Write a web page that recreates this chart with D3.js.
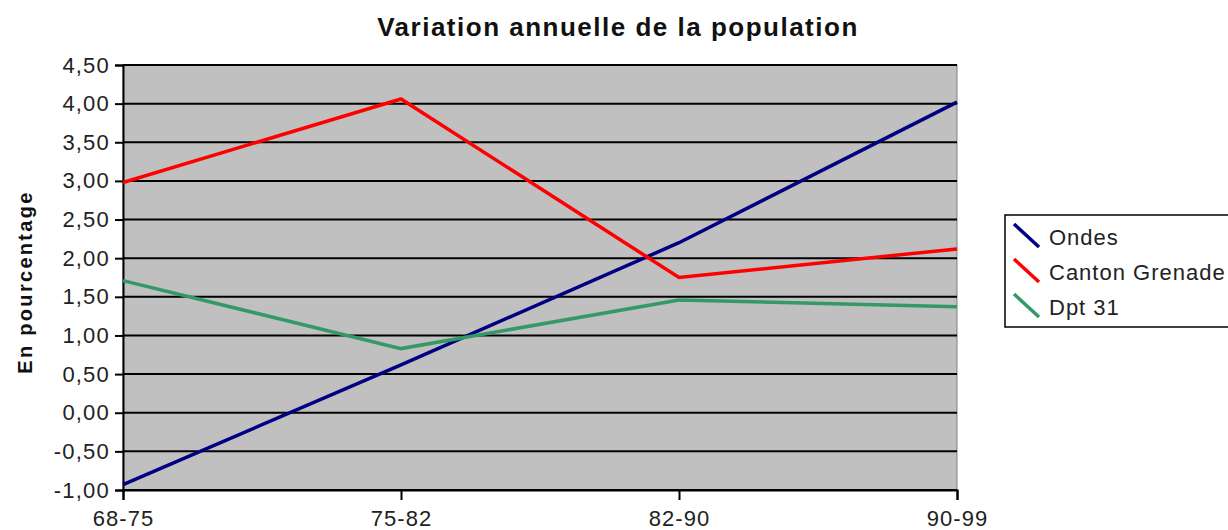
<!DOCTYPE html>
<html>
<head>
<meta charset="utf-8">
<script src="https://cdn.jsdelivr.net/npm/d3@7"></script>
<style>
  body { margin: 0; background: #fff; }
  svg { display: block; font-family: "Liberation Sans", Arial, sans-serif; }
</style>
</head>
<body>
<svg id="chart" width="1228" height="530"></svg>
<script>
const periods = ['68-75', '75-82', '82-90', '90-99'];
const ondes = [-0.93, 0.62, 2.2, 4.02];
const cantonGrenade = [2.98, 4.06, 1.75, 2.12];
const dpt31 = [1.71, 0.83, 1.46, 1.37];
const yTicks = [-1, -0.5, 0, 0.5, 1, 1.5, 2, 2.5, 3, 3.5, 4, 4.5];

const series = [
  {name: 'Ondes', values: ondes, color: '#000080'},
  {name: 'Canton Grenade', values: cantonGrenade, color: '#ff0000'},
  {name: 'Dpt 31', values: dpt31, color: '#339966'}
];

const svg = d3.select('#chart');
const plotLeft = 123, plotRight = 957, plotTop = 65, plotBottom = 490;

const x = d3.scalePoint().domain(periods).range([plotLeft, plotRight]);
const y = d3.scaleLinear().domain([-1, 4.5]).range([plotBottom, plotTop]);
const fmt = v => d3.format('.2f')(v).replace('.', ',').replace('−', '-');

// plot background
svg.append('rect')
  .attr('x', plotLeft).attr('y', plotTop)
  .attr('width', plotRight - plotLeft).attr('height', plotBottom - plotTop)
  .attr('fill', '#c0c0c0')
  .attr('stroke', '#808080').attr('stroke-width', 1);

// gridlines
svg.append('g')
  .selectAll('line')
  .data(yTicks)
  .enter()
  .append('line')
  .attr('x1', plotLeft).attr('x2', plotRight)
  .attr('y1', d => y(d)).attr('y2', d => y(d))
  .attr('stroke', '#000').attr('stroke-width', 2);

// y axis
const yAxis = svg.append('g')
  .attr('transform', `translate(${plotLeft},0)`)
  .call(d3.axisLeft(y).tickValues(yTicks).tickFormat(fmt).tickSize(8).tickPadding(5));
yAxis.select('.domain').attr('stroke', '#000').attr('stroke-width', 2);
yAxis.selectAll('.tick line').attr('stroke', '#000').attr('stroke-width', 2);
yAxis.selectAll('text')
  .attr('font-size', 22).attr('fill', '#222')
  .attr('letter-spacing', 1.2)
  .attr('font-family', '"Liberation Sans", Arial, sans-serif');

// x axis
const xAxis = svg.append('g')
  .attr('transform', `translate(0,${plotBottom})`)
  .call(d3.axisBottom(x).tickSize(10).tickPadding(10));
xAxis.select('.domain').attr('stroke', '#000').attr('stroke-width', 2);
xAxis.selectAll('.tick line').attr('stroke', '#000').attr('stroke-width', 2);
xAxis.selectAll('text')
  .attr('font-size', 22).attr('fill', '#222')
  .attr('letter-spacing', 1)
  .attr('font-family', '"Liberation Sans", Arial, sans-serif');

// lines
const line = d3.line()
  .x((d, i) => x(periods[i]))
  .y(d => y(d));

svg.append('g')
  .selectAll('path')
  .data(series)
  .enter()
  .append('path')
  .attr('d', d => line(d.values))
  .attr('fill', 'none')
  .attr('stroke', d => d.color)
  .attr('stroke-width', 3.5)
  .attr('stroke-linejoin', 'miter');

// title
svg.append('text')
  .attr('x', 618).attr('y', 36)
  .attr('text-anchor', 'middle')
  .attr('font-size', 26).attr('font-weight', 'bold').attr('fill', '#111')
  .attr('letter-spacing', 1.5)
  .text('Variation annuelle de la population');

// y title
svg.append('text')
  .attr('transform', 'translate(32,282) rotate(-90)')
  .attr('text-anchor', 'middle')
  .attr('font-size', 20).attr('font-weight', 'bold').attr('fill', '#111')
  .attr('letter-spacing', 2.3)
  .text('En pourcentage');

// legend
const legend = svg.append('g');
legend.append('rect')
  .attr('x', 1005).attr('y', 215)
  .attr('width', 260).attr('height', 112)
  .attr('fill', '#fff').attr('stroke', '#000').attr('stroke-width', 1.5);

const items = legend.selectAll('g.item')
  .data(series)
  .enter()
  .append('g')
  .attr('class', 'item')
  .attr('transform', (d, i) => `translate(0,${i * 35})`);

items.append('line')
  .attr('x1', 1014).attr('y1', 224)
  .attr('x2', 1039).attr('y2', 247)
  .attr('stroke', d => d.color).attr('stroke-width', 3.5);

items.append('text')
  .attr('x', 1049).attr('y', 245)
  .attr('font-size', 22).attr('fill', '#222')
  .attr('letter-spacing', 1)
  .text(d => d.name);
</script>
</body>
</html>
